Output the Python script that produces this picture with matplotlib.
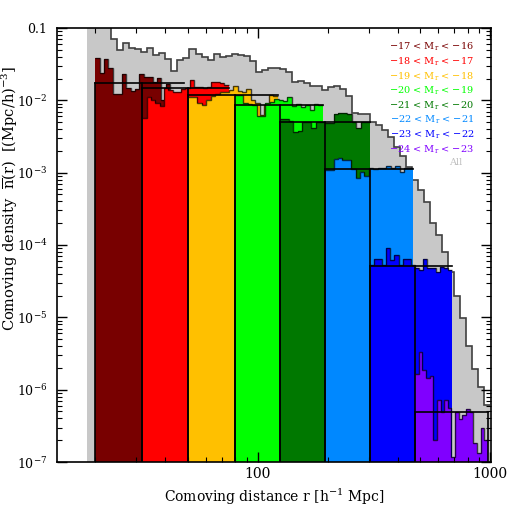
"""Comoving density n(r) of the magnitude-limited samples."""
import numpy as np
import matplotlib
matplotlib.use("Agg")
import matplotlib.pyplot as plt
from matplotlib.ticker import NullFormatter

plt.rcParams["font.family"] = ["DejaVu Serif"]
plt.rcParams["mathtext.fontset"] = "dejavuserif"

# "All" galaxies: log10 n(r) per bin, bins between all_rmin and all_rmax
all_rmin, all_rmax = 18.5, 1000.0
all_logn = [-0.5, -0.5, -0.5, -0.5, -1.152, -1.304, -1.207, -1.277, -1.290, -1.332,
            -1.277, -1.373, -1.346, -1.429, -1.595, -1.443, -1.415, -1.290, -1.360, -1.401,
            -1.443, -1.360, -1.401, -1.387, -1.360, -1.373, -1.387, -1.456, -1.609, -1.581,
            -1.553, -1.553, -1.567, -1.609, -1.747, -1.733, -1.761, -1.802, -1.802, -1.858,
            -1.816, -1.802, -1.844, -1.941, -2.176, -2.189, -2.189, -2.300, -2.342, -2.411,
            -2.508, -2.646, -2.770, -2.923, -3.102, -3.241, -3.407, -3.697, -3.863, -4.098,
            -4.375, -4.707, -5.011, -5.398, -5.716, -5.965, -6.214]

# magnitude bins
labels = ["\u221217 < M$_\\mathregular{r}$ < \u221216", "\u221218 < M$_\\mathregular{r}$ < \u221217",
          "\u221219 < M$_\\mathregular{r}$ < \u221218", "\u221220 < M$_\\mathregular{r}$ < \u221219",
          "\u221221 < M$_\\mathregular{r}$ < \u221220", "\u221222 < M$_\\mathregular{r}$ < \u221221",
          "\u221223 < M$_\\mathregular{r}$ < \u221222", "\u221224 < M$_\\mathregular{r}$ < \u221223"]
colors = ["#780000", "#ff0000", "#ffc000", "#00ff00", "#007800", "#0088ff", "#0000ff", "#8000ff"]

# volume-limited range (filled box) and full histogram range, in h^-1 Mpc
box_lo = [20.0, 31.9, 50.4, 79.6, 124.4, 194.4, 304.0, 475.0]
box_hi = [31.9, 50.4, 79.6, 124.4, 194.4, 304.0, 475.0, 980.0]
hist_hi = [48.0, 75.0, 122.0, 190.6, 304.0, 465.6, 685.5, 980.0]
mean_logn = [-1.761, -1.830, -1.927, -2.065, -2.300, -2.950, -4.292, -6.311]

logn_16 = [-1.415, -1.622, -1.429, -1.553, -1.913, -1.913, -1.636, -1.830, -1.871, -1.844,
           -1.636, -1.678, -1.678, -1.747, -1.692, -1.996, -1.775, -1.927, -1.899, -1.927]
logn_17 = [-2.245, -1.954, -1.996, -2.037, -2.079, -1.830, -1.858, -1.885, -1.885, -1.844,
           -1.830, -1.719, -1.816, -1.816, -1.830, -1.816, -1.747, -1.747, -1.761, -1.788]
logn_18 = [-1.954, -1.954, -2.037, -2.065, -1.996, -1.941, -1.913, -1.885, -1.885, -1.858,
           -1.802, -1.871, -1.885, -1.844, -1.996, -2.037, -2.203, -2.065, -1.927, -1.941]
logn_19 = [-1.927, -1.927, -2.037, -2.051, -2.065, -2.217, -2.217, -2.037, -2.024, -1.982,
           -1.996, -2.010, -1.954, -2.079, -2.051, -2.093, -2.065, -2.134, -2.051, -2.065]
logn_20 = [-2.259, -2.259, -2.286, -2.438, -2.425, -2.300, -2.300, -2.383, -2.300, -2.300,
           -2.314, -2.314, -2.189, -2.176, -2.176, -2.189, -2.300, -2.383, -2.300, -2.300]
logn_21 = [-2.964, -2.964, -2.812, -2.798, -2.826, -2.826, -2.950, -3.075, -2.992, -3.047,
           -2.936, -2.950, -2.936, -2.936, -2.909, -2.936, -2.909, -2.992, -2.936, -2.936]
logn_22 = [-4.278, -4.195, -4.195, -4.278, -4.043, -4.209, -4.140, -4.278, -4.195, -4.195,
           -4.278, -4.320, -4.347, -4.195, -4.320, -4.320, -4.375, -4.306, -4.320, -4.347]
logn_23 = [-5.786, -5.481, -5.730, -5.841, -5.813, -6.698, -6.145, -6.311, -6.145, -6.256,
           -6.934, -6.311, -6.408, -6.353, -6.270, -6.311, -6.740, -6.878, -6.533, -6.698]
sample_logn = [logn_16, logn_17, logn_18, logn_19, logn_20, logn_21, logn_22, logn_23]


def plot_density():
    fig = plt.figure(figsize=(5.18, 5.18), dpi=100)
    ax = fig.add_axes([0.110, 0.108, 0.838, 0.838])
    ax.set_xscale("log")
    ax.set_yscale("log")
    base = 1e-9

    # all galaxies in grey
    n_all = 10.0 ** np.array(all_logn)
    edges = np.geomspace(all_rmin, all_rmax, len(n_all) + 1)
    ax.stairs(n_all, edges, baseline=base, fill=True, color="#c8c8c8", lw=0)
    ax.stairs(n_all, edges, baseline=None, color="#404040", lw=1.2)

    # each magnitude bin on top, faint to bright
    for vals, lo, hi, col in zip(sample_logn, box_lo, hist_hi, colors):
        n = 10.0 ** np.array(vals)
        edges = np.geomspace(lo, hi, len(n) + 1)
        ax.stairs(n, edges, baseline=base, fill=True, color=col, lw=0)
        ax.stairs(n, edges, baseline=None, color="k", alpha=0.7, lw=1.0)

    # boxes marking the volume-limited samples and mean density
    for lo, hi, end, m in zip(box_lo, box_hi, hist_hi, mean_logn):
        ax.plot([lo, lo], [base, 10 ** m], color="k", lw=1.2)
        ax.plot([hi, hi], [base, 10 ** m], color="k", lw=1.2)
        ax.plot([lo, end], [10 ** m, 10 ** m], color="k", lw=1.2)

    ax.set_xlim(13.7, 1010)
    ax.set_ylim(1e-7, 0.1)
    ax.set_xticks([100, 1000])
    ax.set_xticklabels(["100", "1000"])
    ax.xaxis.set_minor_formatter(NullFormatter())
    ax.set_yticks([1e-7, 1e-6, 1e-5, 1e-4, 1e-3, 1e-2, 1e-1])
    ax.set_yticklabels(["$10^{-7}$", "$10^{-6}$", "$10^{-5}$", "$10^{-4}$",
                        "$10^{-3}$", "$10^{-2}$", "0.1"])
    ax.yaxis.set_minor_formatter(NullFormatter())
    ax.tick_params(which="both", direction="in", top=True, right=True)
    ax.tick_params(axis="x", labelsize=10)
    ax.tick_params(axis="y", labelsize=9, pad=7)
    ax.tick_params(which="major", length=7, width=1.0)
    ax.tick_params(which="minor", length=3.5, width=0.8)
    for sp in ax.spines.values():
        sp.set_linewidth(1.2)

    ax.set_xlabel("Comoving distance r [h$^{-1}$ Mpc]", fontsize=10)
    ax.set_ylabel("Comoving density  $\\overline{\\mathregular{n}}$(r)  [(Mpc/h)$^{-3}$]",
                  fontsize=10.5)
    ax.yaxis.set_label_coords(-0.086, 0.608)

    ypos = [0.956, 0.922, 0.887, 0.855, 0.820, 0.788, 0.753, 0.719]
    for lab, col, yy in zip(labels, colors, ypos):
        ax.text(0.961, yy, lab, color=col, fontsize=7, ha="right", va="center",
                transform=ax.transAxes)
    ax.text(0.919, 0.689, "All", color="#c0c0c0", fontsize=7, ha="center", va="center",
            transform=ax.transAxes)

    fig.savefig("out.png", dpi=100)


if __name__ == "__main__":
    plot_density()
